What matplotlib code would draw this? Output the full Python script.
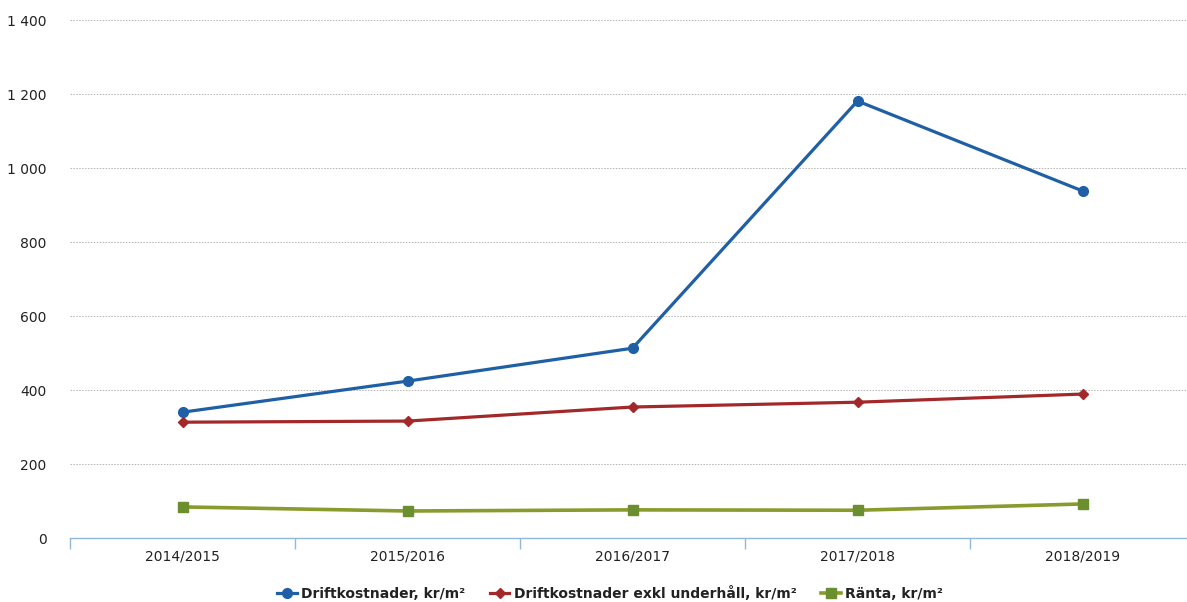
import matplotlib
matplotlib.use("Agg")
import matplotlib.pyplot as plt
from matplotlib.ticker import FuncFormatter, FixedLocator

categories = ["2014/2015", "2015/2016", "2016/2017", "2017/2018", "2018/2019"]
drift = [340, 424, 513, 1181, 938]
drift_exkl = [313, 316, 354, 367, 389]
ranta = [84, 73, 76, 75, 92]
labels = ["Driftkostnader, kr/m²", "Driftkostnader exkl underhåll, kr/m²", "Ränta, kr/m²"]

fig = plt.figure(figsize=(11.87, 6.02), dpi=100)
ax = fig.add_axes([70 / 1187, 64 / 602, 1125 / 1187, 518 / 602])

x = list(range(len(categories)))
ax.plot(x, drift, color="#1f5fa6", lw=2.3, marker="o", ms=7, label=labels[0], zorder=4)
ax.plot(x, drift_exkl, color="#a3282a", lw=2.3, marker="D", ms=5, label=labels[1], zorder=4)
ax.plot(x, ranta, color="#8a9a2c", lw=2.6, marker="s", ms=7,
        markerfacecolor="#6b8e2f", markeredgecolor="#6b8e2f", label=labels[2], zorder=4)

ax.set_xlim(-0.5, 4.5)
ax.set_ylim(0, 1400)
ax.set_yticks(range(0, 1401, 200))
ax.yaxis.set_major_formatter(FuncFormatter(lambda v, p: f"{int(v):,}".replace(",", " ")))
ax.grid(axis="y", color="#b4b4b4", lw=0.7, ls=(0, (1.5, 1.5)))
ax.set_axisbelow(True)

ax.set_xticks(x)
ax.set_xticklabels(categories)
ax.xaxis.set_minor_locator(FixedLocator([-0.5, 0.5, 1.5, 2.5, 3.5, 4.5]))
ax.tick_params(axis="x", which="major", length=0, pad=8, labelsize=10, labelcolor="#222222")
ax.tick_params(axis="x", which="minor", length=8, color="#8fb8dc", width=1)
ax.tick_params(axis="y", length=0, pad=17, labelsize=10, labelcolor="#222222")

for s in ["top", "right", "left"]:
    ax.spines[s].set_visible(False)
ax.spines["bottom"].set_color("#8fb8dc")
ax.spines["bottom"].set_linewidth(1)

leg = fig.legend(loc="center", bbox_to_anchor=(610 / 1187, 1 - 593 / 602), ncol=3,
                 frameon=False, prop={"weight": "bold", "size": 10},
                 handlelength=1.4, columnspacing=1.8, handletextpad=0.3)
for t in leg.get_texts():
    t.set_color("#222222")

fig.savefig("out.png", dpi=100)
